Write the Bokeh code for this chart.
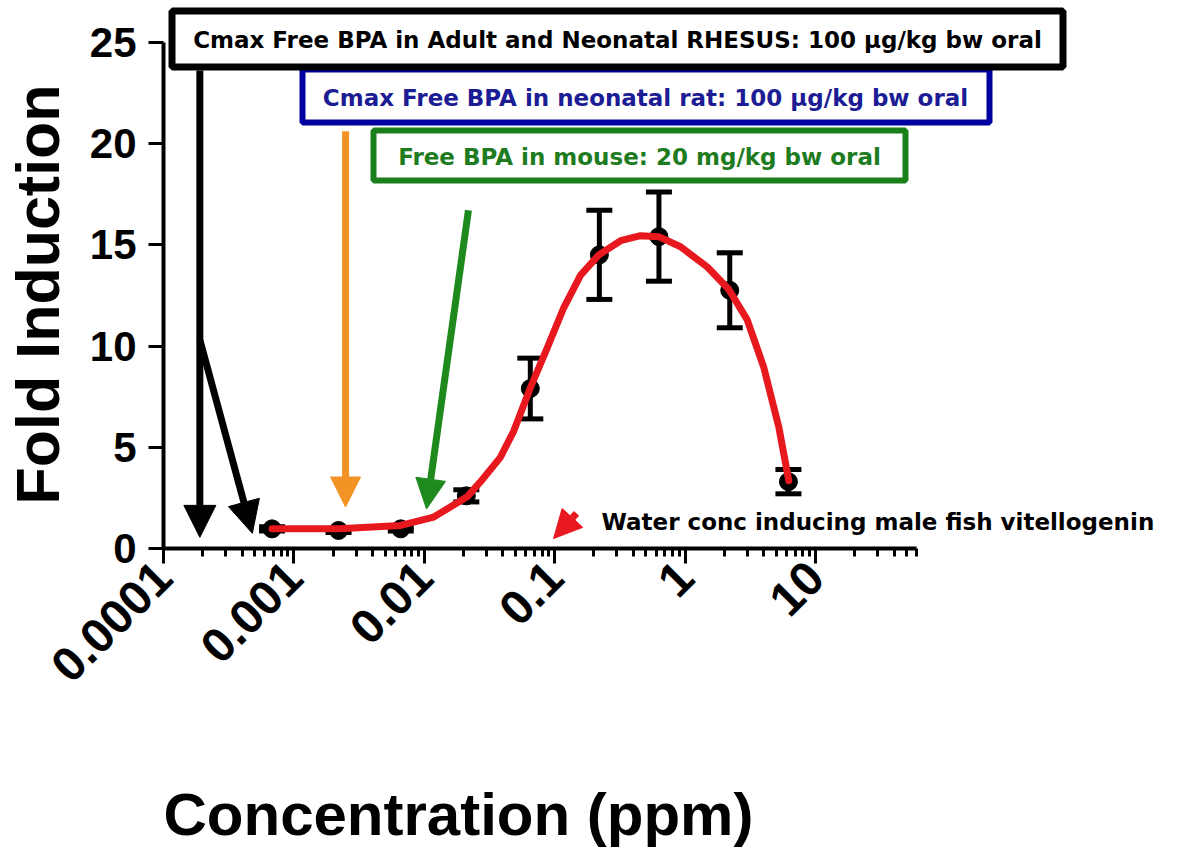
import math
from bokeh.plotting import figure
from bokeh.models import Range1d, FixedTicker, Label, Arrow, NormalHead, BoxAnnotation, Title
from bokeh.embed import file_html
from bokeh.resources import INLINE

# ---------------- data ----------------
conc = [0.00068, 0.0022, 0.0066, 0.021, 0.065, 0.22, 0.63, 2.2, 6.2]
fold = [0.97, 0.89, 0.97, 2.6, 7.9, 14.5, 15.4, 12.75, 3.3]
err = [0.1, 0.1, 0.1, 0.3, 1.5, 2.2, 2.2, 1.85, 0.6]

fit_conc = [0.00068, 0.0022, 0.0066, 0.0118, 0.0213, 0.027, 0.0383, 0.0485, 0.0652,
            0.0875, 0.1175, 0.158, 0.218, 0.32, 0.455, 0.628, 0.923, 1.48, 2.16,
            2.99, 4.01, 5.23, 6.24]
fit_fold = [0.97, 0.97, 1.14, 1.55, 2.55, 3.3, 4.5, 5.8, 7.95,
            9.9, 11.9, 13.5, 14.5, 15.2, 15.45, 15.4, 14.9, 13.9, 12.8,
            11.3, 8.95, 6.0, 3.35]

x_ticks = [0.0001, 0.001, 0.01, 0.1, 1, 10]
x_tick_labels = ["0.0001", "0.001", "0.01", "0.1", "1", "10"]
y_ticks = [0, 5, 10, 15, 20, 25]

# annotation arrows (concentration / fold positions)
rhesus_arrow_x = [0.00019, 0.00019]
rhesus_arrow_y0 = [23.6, 10.3]
rhesus_arrow_x1 = [0.00019, 0.00048]
rhesus_arrow_y1 = [0.55, 0.75]
rat_arrow = (0.00249, 20.6, 0.00249, 2.05)
mouse_arrow = (0.0218, 16.7, 0.0104, 1.95)
fish_arrow = (0.147, 1.73, 0.098, 0.49)

# ---------------- geometry helpers (pixel -> data) ----------------
PX_DEC = 130.4
X0_PX, Y0_PX, PX_UNIT = 163, 548, 20.25
def dx(px):
    return 10 ** (-4 + (px - X0_PX) / PX_DEC)
def dy(py):
    return (Y0_PX - py) / PX_UNIT

W, H = 1180, 856
FRAME_RIGHT = 1178
FRAME_TOP = 0
p = figure(width=W, height=H, x_axis_type="log",
           x_range=Range1d(1e-4, dx(FRAME_RIGHT)), y_range=Range1d(0, dy(FRAME_TOP)),
           output_backend="svg", toolbar_location=None, title=None,
           min_border_left=X0_PX, min_border_right=W - FRAME_RIGHT,
           min_border_top=FRAME_TOP, min_border_bottom=H - Y0_PX)
p.outline_line_color = None
p.xgrid.visible = False
p.ygrid.visible = False
p.background_fill_color = "white"

# axes
TF = "Liberation Sans"
minor = []
for e in range(-4, 1):
    for k in range(2, 10):
        minor.append(k * 10 ** e)
minor += [20, 30, 40, 50, 60]
xa = p.xaxis[0]
xa.ticker = FixedTicker(ticks=x_ticks, minor_ticks=minor)
xa.major_label_overrides = {t: s for t, s in zip(x_ticks, x_tick_labels)}
xa.bounds = (1e-4, 60)
xa.axis_line_width = 4
xa.major_tick_line_width = 3
xa.minor_tick_line_width = 3
xa.major_tick_out = 15
xa.major_tick_in = 0
xa.minor_tick_out = 8
xa.minor_tick_in = 0
xa.major_label_orientation = math.pi / 4
xa.major_label_text_font = TF
xa.major_label_text_font_style = "bold"
xa.major_label_text_font_size = "48px"
xa.major_label_text_color = "black"
xa.major_label_standoff = 6
# invisible spacer label between tick labels and the title
xa.axis_label = "\u00a0"
xa.axis_label_text_font_size = "1px"
xa.axis_label_standoff = 75

ya = p.yaxis[0]
ya.ticker = FixedTicker(ticks=y_ticks, minor_ticks=[])
ya.bounds = (0, 25)
ya.axis_line_width = 4
ya.major_tick_line_width = 3
ya.major_tick_out = 15
ya.major_tick_in = 0
ya.minor_tick_out = 0
ya.minor_tick_in = 0
ya.major_label_text_font = TF
ya.major_label_text_font_style = "bold"
ya.major_label_text_font_size = "42px"
ya.major_label_text_color = "black"
ya.major_label_standoff = 12
ya.axis_label = "\u00a0"
ya.axis_label_text_font_size = "1px"
ya.axis_label_standoff = 11

# axis titles as side titles
p.add_layout(Title(text="Concentration (ppm)", align="left", offset=0, standoff=0,
                   text_font=TF, text_font_style="bold", text_font_size="60px",
                   text_color="black"), "below")
p.add_layout(Title(text="Fold Induction", align="left", offset=44, standoff=0,
                   text_font=TF, text_font_style="bold", text_font_size="61px",
                   text_color="black"), "left")

# ---------------- data marks ----------------
lo = [f - e for f, e in zip(fold, err)]
hi = [f + e for f, e in zip(fold, err)]
p.segment(x0=conc, y0=lo, x1=conc, y1=hi, line_color="black", line_width=5)
p.scatter(x=conc, y=hi, marker="dash", size=26, line_width=5, line_color="black")
p.scatter(x=conc, y=lo, marker="dash", size=26, line_width=5, line_color="black")
p.scatter(x=conc, y=fold, marker="circle", size=18, color="black")
p.line(x=fit_conc, y=fit_fold, line_color="#e8191e", line_width=7, line_join="round", line_cap="round")

# ---------------- annotations ----------------
BOXFONT = "DejaVu Sans"
def box(l, r, t, b, lw, color):
    p.add_layout(BoxAnnotation(left=dx(l + lw / 2), right=dx(r - lw / 2),
                               top=dy(t + lw / 2), bottom=dy(b - lw / 2),
                               fill_color="white", fill_alpha=1.0,
                               line_color=color, line_width=lw, line_alpha=1.0))
def txt(cx, cy, s, color, size, font=BOXFONT, style="bold", angle=0.0, base="middle", align="center"):
    p.add_layout(Label(x=dx(cx), y=dy(cy), text=s, text_color=color, text_font=font,
                       text_font_size=size, text_font_style=style, angle=angle,
                       text_align=align, text_baseline=base))

# blue box (behind black)
box(299, 992, 66, 125, 6, "#0000a0")
txt(645, 97, "Cmax Free BPA in neonatal rat: 100 \u00b5g/kg bw oral", "#1c1c94", "23px")
# black box
box(168, 1066, 7, 70, 7, "black")
txt(617, 39, "Cmax Free BPA in Adult and Neonatal RHESUS: 100 \u00b5g/kg bw oral", "black", "23px")
# green box
box(370, 908, 127, 183, 6, "#1a7f1a")
txt(639, 156, "Free BPA in mouse: 20 mg/kg bw oral", "#1e7b1e", "23px")

def arrow(x0, y0, x1, y1, color, lw, hs):
    p.add_layout(Arrow(x_start=x0, y_start=y0, x_end=x1, y_end=y1, line_color=color,
                       line_width=lw,
                       end=NormalHead(size=hs, fill_color=color, line_color=color, line_width=1)))

for a, b, c, d in zip(rhesus_arrow_x, rhesus_arrow_y0, rhesus_arrow_x1, rhesus_arrow_y1):
    arrow(a, b, c, d, "black", 7, 32)
arrow(*rat_arrow, "#f39325", 7, 30)
arrow(*mouse_arrow, "#1e8a1e", 7, 30)
arrow(*fish_arrow, "#e8191e", 7, 28)

txt(601, 521, "Water conc inducing male fish vitellogenin", "black", "23px", align="left")

open("out.html", "w").write(file_html(p, INLINE))
